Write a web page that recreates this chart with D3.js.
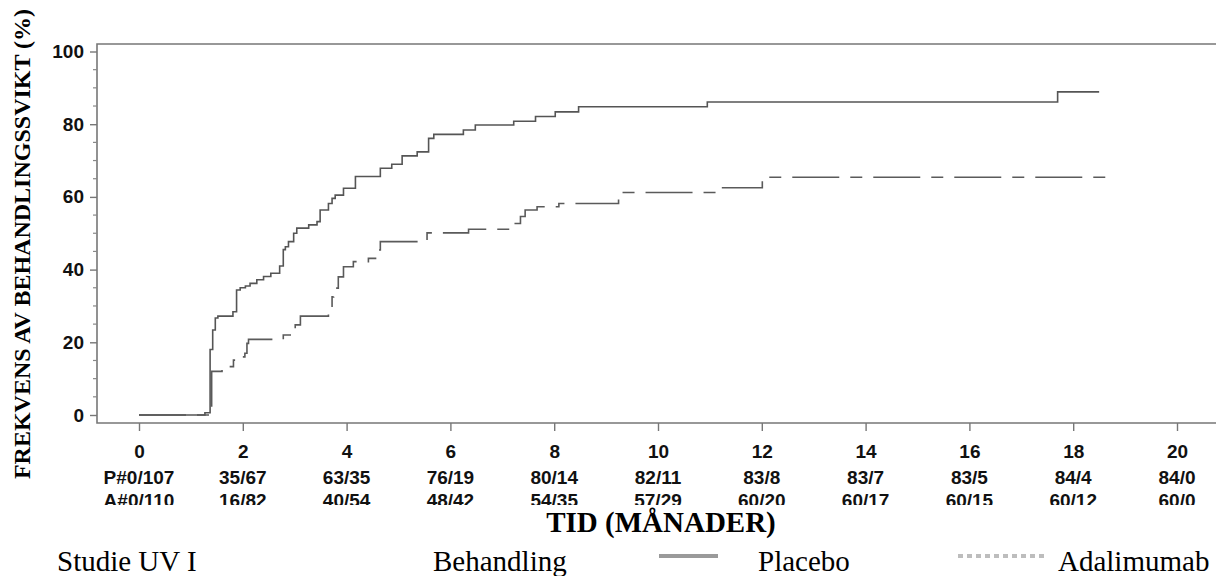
<!DOCTYPE html>
<html lang="sv">
<head>
    <meta charset="UTF-8">
    <title>Studie UV I</title>
    <script src="https://d3js.org/d3.v7.min.js"></script>
    <style>
        body { margin: 0; background: #fff; }
        .tick text, .risk { font-family: "Liberation Sans", Arial, sans-serif; font-weight: bold; font-size: 19px; fill: #111; }
        .serif { font-family: "Liberation Serif", "Times New Roman", serif; fill: #000; }
    </style>
</head>
<body>
    <div id="chart"></div>
    <script>
        // tid (månader) och kumulativ frekvens (%)
        const placeboTime = [0, 1.27, 1.37, 1.42, 1.47, 1.52, 1.81, 1.88, 1.95, 2.05, 2.14, 2.27, 2.40, 2.54, 2.71, 2.78, 2.82, 2.88, 2.98, 3.04, 3.27, 3.43, 3.49, 3.65, 3.72, 3.78, 3.94, 4.17, 4.65, 4.87, 5.07, 5.36, 5.58, 5.68, 6.25, 6.48, 7.22, 7.64, 8.02, 8.47, 10.95, 17.70, 18.50];
        const placeboPct  = [0, 0.6, 18.0, 23.4, 26.7, 27.2, 28.4, 34.4, 35.0, 35.5, 36.2, 37.2, 38.1, 39.0, 41.0, 45.5, 46.3, 47.7, 50.0, 51.4, 52.3, 53.2, 56.4, 58.2, 59.6, 60.5, 62.4, 65.6, 67.9, 69.0, 71.3, 72.4, 76.1, 77.2, 78.4, 79.8, 80.8, 82.1, 83.4, 84.8, 86.1, 88.9, 88.9];

        const adaTime = [0, 1.40, 1.60, 1.82, 1.92, 2.04, 2.08, 2.11, 2.78, 2.94, 3.01, 3.11, 3.65, 3.72, 3.75, 3.84, 3.94, 4.13, 4.42, 4.58, 4.65, 5.55, 6.35, 7.19, 7.25, 7.35, 7.44, 7.67, 8.09, 9.24, 9.28, 11.11, 12.01, 18.73];
        const adaPct  = [0, 12.0, 13.3, 15.1, 16.0, 17.0, 19.7, 20.8, 22.0, 23.4, 24.8, 27.2, 28.4, 32.5, 34.9, 38.0, 40.8, 42.2, 43.1, 45.4, 47.7, 50.1, 51.1, 51.8, 52.7, 54.6, 56.4, 57.3, 58.2, 59.9, 61.2, 62.5, 65.4, 65.4];

        const xTicks = [0, 2, 4, 6, 8, 10, 12, 14, 16, 18, 20];
        const yTicks = [0, 20, 40, 60, 80, 100];
        const placeboRisk = ["P#0/107", "35/67", "63/35", "76/19", "80/14", "82/11", "83/8", "83/7", "83/5", "84/4", "84/0"];
        const adaRisk = ["A#0/110", "16/82", "40/54", "48/42", "54/35", "57/29", "60/20", "60/17", "60/15", "60/12", "60/0"];

        const W = 1216, H = 576;
        const frame = { left: 97, top: 44, bottom: 423, right: 1216 };

        const svg = d3.select("#chart").append("svg")
            .attr("width", W)
            .attr("height", H);

        const x = d3.scaleLinear().domain([0, 20]).range([139, 1177]);
        const y = d3.scaleLinear().domain([0, 100]).range([415, 51.5]);

        // ram
        svg.append("path")
            .attr("d", `M${frame.right},${frame.top}H${frame.left}V${frame.bottom}H${frame.right}`)
            .attr("fill", "none")
            .attr("stroke", "#777")
            .attr("stroke-width", 1.6);

        // x-axel
        const xAxis = svg.append("g")
            .attr("transform", `translate(0,${frame.bottom})`)
            .call(d3.axisBottom(x).tickValues(xTicks).tickSize(8).tickPadding(14));
        xAxis.select(".domain").remove();
        xAxis.selectAll(".tick line").attr("stroke", "#777").attr("stroke-width", 1.4);

        // y-axel med små streck
        const yAxis = svg.append("g")
            .attr("transform", `translate(${frame.left},0)`)
            .call(d3.axisLeft(y).tickValues(yTicks).tickSize(7).tickPadding(6));
        yAxis.select(".domain").remove();
        yAxis.selectAll(".tick line").attr("stroke", "#777").attr("stroke-width", 1.4);

        const minor = d3.range(0, 101, 5).filter(v => v % 20 !== 0);
        svg.append("g").selectAll("line")
            .data(minor)
            .join("line")
            .attr("x1", frame.left - 4)
            .attr("x2", frame.left)
            .attr("y1", d => y(d))
            .attr("y2", d => y(d))
            .attr("stroke", "#888")
            .attr("stroke-width", 1.2);

        // antal händelser / antal i riskzon
        svg.append("g").selectAll("text")
            .data(placeboRisk)
            .join("text")
            .attr("class", "risk")
            .attr("x", (d, i) => x(xTicks[i]))
            .attr("y", 483.5)
            .attr("text-anchor", "middle")
            .text(d => d);

        svg.append("clipPath").attr("id", "cut")
            .append("rect").attr("x", 0).attr("y", 0).attr("width", W).attr("height", 505);

        svg.append("g").attr("clip-path", "url(#cut)")
            .selectAll("text")
            .data(adaRisk)
            .join("text")
            .attr("class", "risk")
            .attr("x", (d, i) => x(xTicks[i]))
            .attr("y", 507)
            .attr("text-anchor", "middle")
            .text(d => d);

        // kurvor
        const line = d3.line()
            .x(d => x(d[0]))
            .y(d => y(d[1]))
            .curve(d3.curveStepAfter);

        svg.append("path")
            .datum(d3.zip(adaTime, adaPct))
            .attr("d", line)
            .attr("fill", "none")
            .attr("stroke", "#5a5a5a")
            .attr("stroke-width", 1.6)
            .attr("stroke-dasharray", "47 11 12 11");

        svg.append("path")
            .datum(d3.zip(placeboTime, placeboPct))
            .attr("d", line)
            .attr("fill", "none")
            .attr("stroke", "#555")
            .attr("stroke-width", 1.6);

        // axeltitlar
        svg.append("text")
            .attr("class", "serif")
            .attr("transform", "translate(30,244) rotate(-90)")
            .attr("text-anchor", "middle")
            .attr("font-weight", "bold")
            .attr("font-size", 24)
            .text("FREKVENS AV BEHANDLINGSSVIKT (%)");

        svg.append("text")
            .attr("class", "serif")
            .attr("x", 661)
            .attr("y", 532)
            .attr("text-anchor", "middle")
            .attr("font-weight", "bold")
            .attr("font-size", 29)
            .text("TID (MÅNADER)");

        // förklaring
        const legendY = 571;
        svg.append("text").attr("class", "serif").attr("x", 57).attr("y", legendY).attr("font-size", 29).text("Studie UV I");
        svg.append("text").attr("class", "serif").attr("x", 433).attr("y", legendY).attr("font-size", 29).text("Behandling");
        svg.append("line")
            .attr("x1", 659).attr("x2", 718).attr("y1", 556).attr("y2", 556)
            .attr("stroke", "#9a9a9a").attr("stroke-width", 4);
        svg.append("text").attr("class", "serif").attr("x", 758).attr("y", legendY).attr("font-size", 29).text("Placebo");
        svg.append("line")
            .attr("x1", 958).attr("x2", 1045).attr("y1", 556).attr("y2", 556)
            .attr("stroke", "#bdbdbd").attr("stroke-width", 4)
            .attr("stroke-dasharray", "5 4");
        svg.append("text").attr("class", "serif").attr("x", 1058).attr("y", legendY).attr("font-size", 29).text("Adalimumab");
    </script>
</body>
</html>
